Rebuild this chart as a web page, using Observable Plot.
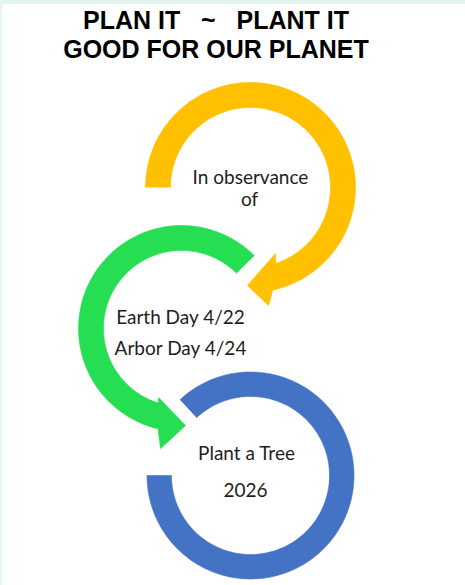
<!DOCTYPE html>
<html>
<head>
<meta charset="utf-8">
<script src="https://cdn.jsdelivr.net/npm/d3@7"></script>
<script src="https://cdn.jsdelivr.net/npm/@observablehq/plot@0.6"></script>
<style>
  html, body { margin: 0; padding: 0; background: #ffffff; }
  #page { position: relative; width: 465px; height: 585px; overflow: hidden; background: #ffffff; }
  #stripTop { position: absolute; left: 0; top: 0; width: 465px; height: 4px; background: #e2f5ee; z-index: 5; }
  #stripLeft { position: absolute; left: 0; top: 0; width: 2px; height: 585px; background: #e2f5ee; z-index: 5; }
  #title { position: absolute; left: 0; top: 6px; width: 432px; text-align: center;
           font-family: "Liberation Sans", Arial, sans-serif; font-weight: bold; font-size: 25px;
           line-height: 29px; color: #000; white-space: pre; z-index: 4; }
  #chart { position: absolute; left: 0; top: 64px; }
</style>
</head>
<body>
<div id="page">
  <div id="stripTop"></div>
  <div id="stripLeft"></div>
  <div id="title"></div>
  <div id="chart"></div>
</div>
<script>
// ---- data ----
const titleLines = ["PLAN IT   ~   PLANT IT", "GOOD FOR OUR PLANET"];

const ringNames   = ["observance", "days", "tree"];
const ringColors  = ["#FFC000", "#26DE52", "#4472C4"];
const ringCx      = [250, 181, 250];
const ringCy      = [187, 328, 475];
const outerR      = [105, 103, 103.5];
const innerR      = [80, 78, 79];
const startDeg    = [180, -45, -133];
const outerEndDeg = [437.7, -256.8, 180];
const innerEndDeg = [431.6, -252.5, 180];
// arrowheads (null = no arrowhead)
const barbOutDeg  = [441.3, -260.1, null];
const barbOutR    = [119.4, 122, null];
const tipDeg      = [451.8, -272.4, null];
const tipR        = [98, 97, null];
const barbInDeg   = [429.3, -251.6, null];
const barbInR     = [70.6, 72.7, null];

const labelText = ["In observance", "of", "Earth Day 4/22", "Arbor Day 4/24", "Plant a Tree", "2026"];
const labelX    = [250, 249, 180, 180, 246, 245];
const labelY    = [177, 199, 317, 348, 453, 490];

// ---- build ring shapes from the parameters ----
function pt(i, deg, r) {
  const a = deg * Math.PI / 180;
  return {ring: ringNames[i], x: ringCx[i] + r * Math.cos(a), y: ringCy[i] + r * Math.sin(a)};
}
function arc(i, d0, d1, r) {
  const n = Math.max(2, Math.ceil(Math.abs(d1 - d0) / 1.5));
  const out = [];
  for (let k = 0; k <= n; k++) out.push(pt(i, d0 + (d1 - d0) * k / n, r));
  return out;
}
const shapes = [];
ringNames.forEach((name, i) => {
  const poly = [];
  poly.push(...arc(i, startDeg[i], outerEndDeg[i], outerR[i]));
  if (tipDeg[i] != null) {
    poly.push(pt(i, barbOutDeg[i], barbOutR[i]));
    poly.push(pt(i, tipDeg[i], tipR[i]));
    poly.push(pt(i, barbInDeg[i], barbInR[i]));
  }
  poly.push(...arc(i, innerEndDeg[i], startDeg[i], innerR[i]));
  shapes.push(...poly);
});

const labels = labelText.map((t, i) => ({t, x: labelX[i], y: labelY[i]}));

document.getElementById("title").textContent = titleLines.join("\n");

const chart = Plot.plot({
  width: 465,
  height: 521,
  margin: 0,
  style: {background: "transparent"},
  x: {domain: [0, 465], range: [0, 465], axis: null},
  y: {domain: [64, 585], range: [0, 521], axis: null},
  color: {domain: ringNames, range: ringColors},
  marks: [
    Plot.line(shapes, {x: "x", y: "y", z: "ring", fill: "ring", stroke: "ring", strokeWidth: 0.6, curve: "linear"}),
    Plot.text(labels, {x: "x", y: "y", text: "t", fontSize: 19, fill: "#1e1e1e",
      fontFamily: "Lato, 'Open Sans', sans-serif", textAnchor: "middle", lineAnchor: "middle"})
  ]
});
document.getElementById("chart").appendChild(chart);
</script>
</body>
</html>
